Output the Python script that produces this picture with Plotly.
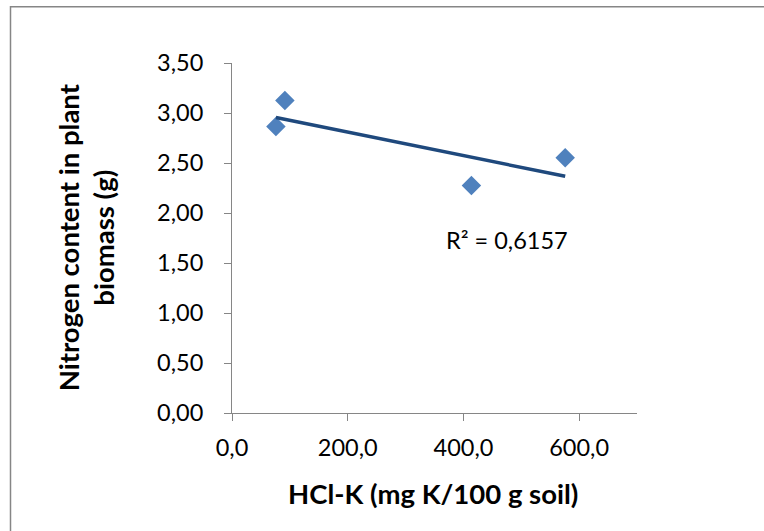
import numpy as np
import plotly.graph_objects as go

# HCl-extractable potassium vs. nitrogen in plant biomass
hcl_k = [75.9, 91.4, 413.8, 575.9]
nitrogen = [2.865, 3.125, 2.275, 2.552]
r_squared = 0.6157

x_ticks = [0, 200, 400, 600]
x_tick_text = ["0,0", "200,0", "400,0", "600,0"]
y_ticks = [0, 0.5, 1.0, 1.5, 2.0, 2.5, 3.0, 3.5]
y_tick_text = ["0,00", "0,50", "1,00", "1,50", "2,00", "2,50", "3,00", "3,50"]

# linear trendline over the data span
slope, intercept = np.polyfit(hcl_k, nitrogen, 1)
trend_x = [min(hcl_k), max(hcl_k)]
trend_y = [slope * v + intercept for v in trend_x]

W, H = 764, 531
L, R, T, B = 232, 637, 62.7, 412.7

fig = go.Figure()
fig.add_trace(go.Scatter(
    x=hcl_k, y=nitrogen, mode="markers",
    marker=dict(symbol="diamond", size=15, color="#4F81BD", line=dict(width=0)),
    showlegend=False, cliponaxis=False,
))
fig.add_trace(go.Scatter(
    x=trend_x, y=trend_y, mode="lines",
    line=dict(color="#1F497D", width=3.5),
    showlegend=False,
))

font = "Lato, 'Open Sans', sans-serif"
axis_common = dict(
    showgrid=False, zeroline=False, showline=True, linecolor="#868686", linewidth=1,
    ticks="outside", ticklen=7, tickcolor="#868686", tickwidth=1,
    tickfont=dict(family=font, size=23.5, color="#000000"),
)

fig.update_layout(
    width=W, height=H,
    margin=dict(l=L, r=W - R, t=T, b=H - B, pad=0),
    paper_bgcolor="white", plot_bgcolor="white",
    xaxis=dict(range=[0, 700], tickvals=x_ticks, ticktext=x_tick_text,
               ticklabelstandoff=7, **axis_common),
    yaxis=dict(range=[0, 3.5], tickvals=y_ticks, ticktext=y_tick_text,
               ticklabelstandoff=16, **axis_common),
)

def px_x(p):
    return (p - L) / (R - L)

def px_y(p):
    return (B - p) / (B - T)

# outer chart border
fig.add_shape(type="rect", xref="paper", yref="paper",
              x0=px_x(10.5), x1=px_x(800), y0=px_y(600), y1=px_y(6.5),
              line=dict(color="#868686", width=1.5), fillcolor="rgba(0,0,0,0)",
              layer="below")

# axis titles
fig.add_annotation(xref="paper", yref="paper", x=px_x(433), y=px_y(493),
                   text="<b>HCl-K (mg K/100 g soil)</b>", showarrow=False,
                   font=dict(family=font, size=27.5, color="#000000"),
                   xanchor="center", yanchor="middle")
fig.add_annotation(xref="paper", yref="paper", x=px_x(86), y=px_y(237),
                   text="<b>Nitrogen content in plant<br>biomass (g)</b>", showarrow=False,
                   textangle=-90, font=dict(family=font, size=27.5, color="#000000"),
                   xanchor="center", yanchor="middle")

# R² label
fig.add_annotation(xref="paper", yref="paper", x=px_x(507), y=px_y(240),
                   text="R² = " + f"{r_squared:.4f}".replace(".", ","), showarrow=False,
                   font=dict(family=font, size=23.5, color="#000000"),
                   xanchor="center", yanchor="middle")

fig.write_html("out.html")
